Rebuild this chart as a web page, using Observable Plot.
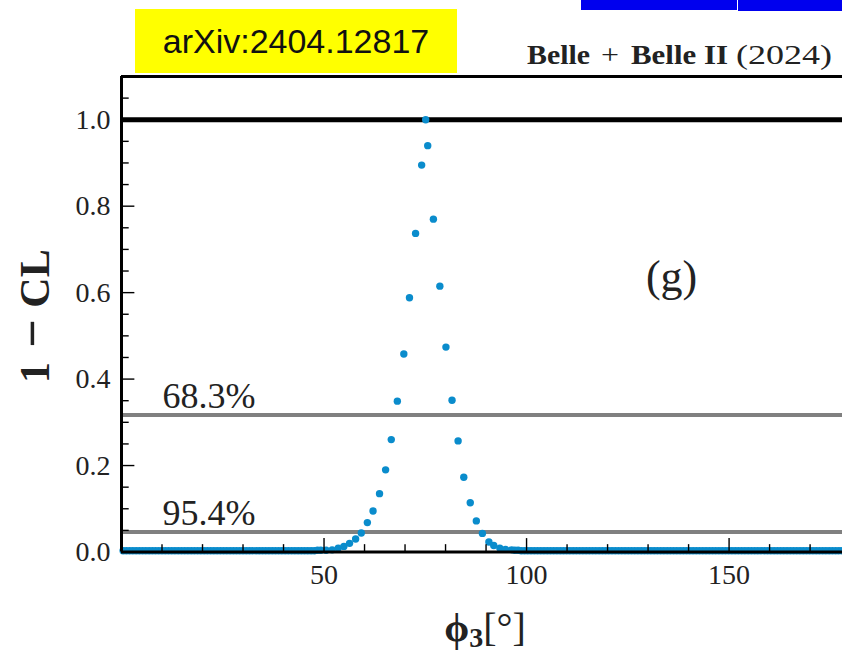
<!DOCTYPE html>
<html><head><meta charset="utf-8">
<script src="https://cdn.jsdelivr.net/npm/d3@7"></script>
<script src="https://cdn.jsdelivr.net/npm/@observablehq/plot@0.6"></script>
<style>
html,body{margin:0;padding:0;background:#fff;overflow:hidden;}
#wrap{position:relative;width:842px;height:655px;}
#chart{position:absolute;left:0;top:0;}
#head{position:absolute;left:0;top:0;}
.blue{position:absolute;background:#0000ee;}
#arxiv{position:absolute;left:135px;top:9px;width:322px;height:64px;background:#ffff00;font-family:"Liberation Sans",sans-serif;font-size:34px;display:flex;align-items:center;justify-content:center;color:#111;}
</style></head><body>
<div id="wrap">
  <div id="chart"></div>
  <div class="blue" style="left:581px;top:0;width:156px;height:10px;"></div>
  <div class="blue" style="left:738px;top:0;width:104px;height:11px;"></div>
  <div id="arxiv">arXiv:2404.12817</div>
  <svg id="head" width="842" height="76"></svg>
</div>
<script>
// phi3 scan (degrees) and 1 - CL
const leftTailPhi = [0.4,1.2,2.0,2.8,3.6,4.4,5.2,6.0,6.8,7.6,
  8.4,9.2,10.0,10.8,11.6,12.4,13.2,14.0,14.8,15.6,
  16.4,17.2,18.0,18.8,19.6,20.4,21.2,22.0,22.8,23.6,
  24.4,25.2,26.0,26.8,27.6,28.4,29.2,30.0,30.8,31.6,
  32.4,33.2,34.0,34.8,35.6,36.4,37.2,38.0,38.8,39.6,
  40.4,41.2,42.0,42.8,43.6,44.4,45.2,46.0,46.8,47.6,
  48.4,49.2];
const leftTailCL = [0.003,0.003,0.003,0.003,0.003,0.003,0.003,0.003,0.003,0.003,
  0.003,0.003,0.003,0.003,0.003,0.003,0.003,0.003,0.003,0.003,
  0.003,0.003,0.003,0.003,0.003,0.003,0.003,0.003,0.003,0.003,
  0.003,0.003,0.003,0.003,0.003,0.003,0.003,0.003,0.003,0.003,
  0.003,0.003,0.003,0.003,0.003,0.003,0.003,0.003,0.003,0.003,
  0.003,0.003,0.003,0.003,0.003,0.003,0.003,0.003,0.003,0.003,
  0.004,0.004];
const peakPhi = [50.5,52.0,53.5,54.9,56.3,57.8,59.2,60.7,62.1,63.7,65.2,66.6,68.1,69.7,71.1,72.6,74.1,75.1,
  75.6,77.0,78.6,80.1,81.6,83.1,84.5,86.1,87.6,89.1,90.7,91.9,93.4,94.8,96.3];
const peakCL = [0.004,0.005,0.009,0.013,0.020,0.030,0.044,0.068,0.095,0.135,0.190,0.260,0.349,0.458,0.588,0.737,0.895,1.000,
  0.940,0.770,0.615,0.474,0.351,0.257,0.173,0.114,0.072,0.043,0.023,0.015,0.009,0.006,0.005];
const rightTailPhi = [97.1,97.9,98.7,99.5,100.3,101.1,101.9,102.7,103.5,104.3,
  105.1,105.9,106.7,107.5,108.3,109.1,109.9,110.7,111.5,112.3,
  113.1,113.9,114.7,115.5,116.3,117.1,117.9,118.7,119.5,120.3,
  121.1,121.9,122.7,123.5,124.3,125.1,125.9,126.7,127.5,128.3,
  129.1,129.9,130.7,131.5,132.3,133.1,133.9,134.7,135.5,136.3,
  137.1,137.9,138.7,139.5,140.3,141.1,141.9,142.7,143.5,144.3,
  145.1,145.9,146.7,147.5,148.3,149.1,149.9,150.7,151.5,152.3,
  153.1,153.9,154.7,155.5,156.3,157.1,157.9,158.7,159.5,160.3,
  161.1,161.9,162.7,163.5,164.3,165.1,165.9,166.7,167.5,168.3,
  169.1,169.9,170.7,171.5,172.3,173.1,173.9,174.7,175.5,176.3,
  177.1,177.9];
const rightTailCL = [0.004,0.004,0.003,0.003,0.003,0.003,0.003,0.003,0.003,0.003,
  0.003,0.003,0.003,0.003,0.003,0.003,0.003,0.003,0.003,0.003,
  0.003,0.003,0.003,0.003,0.003,0.003,0.003,0.003,0.003,0.003,
  0.003,0.003,0.003,0.003,0.003,0.003,0.003,0.003,0.003,0.003,
  0.003,0.003,0.003,0.003,0.003,0.003,0.003,0.003,0.003,0.003,
  0.003,0.003,0.003,0.003,0.003,0.003,0.003,0.003,0.003,0.003,
  0.003,0.003,0.003,0.003,0.003,0.003,0.003,0.003,0.003,0.003,
  0.003,0.003,0.003,0.003,0.003,0.003,0.003,0.003,0.003,0.003,
  0.003,0.003,0.003,0.003,0.003,0.003,0.003,0.003,0.003,0.003,
  0.003,0.003,0.003,0.003,0.003,0.003,0.003,0.003,0.003,0.003,
  0.003,0.003];

const levelValues = [0.317, 0.046];
const levelLabels = ["68.3%", "95.4%"];
const xMajorTicks = [50, 100, 150];
const xMinorTicks = [10,20,30,40,60,70,80,90,110,120,130,140,160,170];
const yLabelTicks = [0, 0.2, 0.4, 0.6, 0.8, 1.0];
const yMinorTicks = [0.05,0.1,0.15,0.25,0.3,0.35,0.45,0.5,0.55,0.65,0.7,0.75,0.85,0.9,0.95,1.05];
const panelTag = "(g)";
const titleParts = [
  {text: "Belle", bold: true}, {text: "+", bold: false},
  {text: "Belle II", bold: true}, {text: "(2024)", bold: false}
];
const yLabelParts = ["1", "\u2212", "CL"];

const points = [];
[[leftTailPhi, leftTailCL], [peakPhi, peakCL], [rightTailPhi, rightTailCL]].forEach(([xs, ys]) => {
  xs.forEach((p, i) => points.push({phi: p, cl: ys[i]}));
});
const levels = levelValues.map((v, i) => ({v, label: levelLabels[i]}));

const serif = "Liberation Serif, serif";
const tickStroke = {stroke: "#000", strokeWidth: 1.4};
const chart = Plot.plot({
  width: 842, height: 655,
  marginLeft: 121, marginRight: 0, marginTop: 76, marginBottom: 103.5,
  x: {domain: [0, 178], label: null},
  y: {domain: [0, 1.1], label: null},
  style: {fontFamily: serif, background: "white", color: "#222", overflow: "visible"},
  marks: [
    Plot.ruleY(levels, {y: "v", stroke: "#808080", strokeWidth: 4}),
    Plot.ruleY([1], {stroke: "#000", strokeWidth: 5}),
    Plot.dot(points, {x: "phi", y: "cl", r: 3.7, fill: "#0a8ccc", stroke: "none"}),
    Plot.text(levels, {y: "v", text: "label", frameAnchor: "left", textAnchor: "start", dx: 41, dy: -19, fontSize: 36, fill: "#222"}),
    Plot.text([panelTag], {x: 135.8, y: 0.636, text: d => d, fontSize: 44, fill: "#222"}),
    // inward tick marks
    Plot.ruleX(xMinorTicks, {x: d => d, y1: 0, y2: 0.017, ...tickStroke}),
    Plot.ruleX(xMajorTicks, {x: d => d, y1: 0, y2: 0.031, ...tickStroke}),
    Plot.ruleY(yMinorTicks, {y: d => d, x1: 0, x2: 1.9, ...tickStroke}),
    Plot.ruleY(yLabelTicks, {y: d => d, x1: 0, x2: 3.3, ...tickStroke}),
    // frame
    Plot.ruleX([0], {stroke: "#000", strokeWidth: 3}),
    Plot.ruleY([0], {stroke: "#000", strokeWidth: 3}),
    Plot.ruleY([1.1], {stroke: "#000", strokeWidth: 3}),
    Plot.axisX({ticks: xMajorTicks, tickSize: 0, tickPadding: 12, fontSize: 28, label: null}),
    Plot.axisY({ticks: yLabelTicks, tickSize: 0, tickPadding: 11, fontSize: 28, tickFormat: d3.format(".1f"), label: null})
  ]
});
document.getElementById("chart").appendChild(chart);

const svg = d3.select(chart);
const yLabelCenters = [372.5, 333.5, 278.5];
yLabelParts.forEach((t, i) => {
  svg.append("text")
    .attr("transform", `translate(49,${yLabelCenters[i]}) rotate(-90)`)
    .attr("text-anchor", "middle")
    .attr("font-family", serif).attr("font-size", i === 1 ? 50 : 42).attr("font-weight", "bold").attr("fill", "#222")
    .text(t);
});
const xl = svg.append("text")
  .attr("x", 485).attr("y", 641)
  .attr("text-anchor", "middle")
  .attr("font-family", serif).attr("font-size", 40).attr("fill", "#222");
xl.append("tspan").attr("font-weight", "bold").text("\u03D5");
xl.append("tspan").attr("font-weight", "bold").attr("font-size", 28).attr("dy", 6).text("3");
xl.append("tspan").attr("dy", -6).text("[\u00B0]");

// header title pieces
const head = d3.select("#head");
const titleX = [527, 601, 631, 736];
const titleW = [63, 18, 97, 96];
titleParts.forEach((p, i) => {
  head.append("text")
    .attr("x", titleX[i]).attr("y", 64)
    .attr("font-family", serif).attr("font-size", 27)
    .attr("font-weight", p.bold ? "bold" : "normal").attr("fill", "#222")
    .attr("textLength", titleW[i]).attr("lengthAdjust", "spacingAndGlyphs")
    .text(p.text);
});
</script>
</body></html>
